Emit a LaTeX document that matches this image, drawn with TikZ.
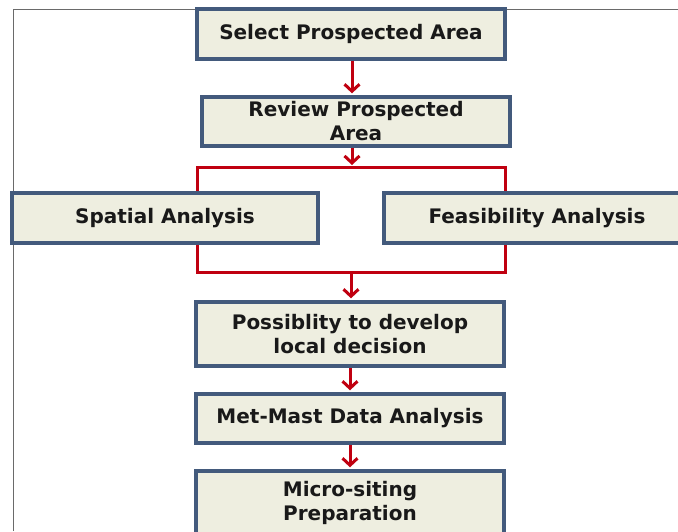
\documentclass[tikz,border=0pt]{standalone}
\usepackage{fontspec}
\setmainfont{DejaVu Sans}
\usetikzlibrary{arrows.meta,calc}

\definecolor{boxfill}{HTML}{EEEEE0}
\definecolor{boxline}{HTML}{435A7C}
\definecolor{flowred}{HTML}{C00010}
\definecolor{framegray}{HTML}{6A6A6A}

\tikzset{
  stepbox/.style={draw=boxline, line width=3.4pt, fill=boxfill,
    text=black!90, font=\fontsize{20}{24}\selectfont\bfseries,
    align=center, inner sep=0pt, minimum width=308pt},
  flow/.style={draw=flowred, line width=3pt,
    -{Straight Barb[length=7pt,width=15pt,line width=3pt]}, shorten >=2pt},
  bracket/.style={draw=flowred, line width=3pt},
}

\begin{document}
\begin{tikzpicture}[x=1pt,y=-1pt]
  \clip (0,0) rectangle (678,531);
  \fill[white] (0,0) rectangle (678,531);

  % outer frame, top and left sides
  \draw[framegray, line width=1pt] (13,531) -- (13,9) -- (678,9);

  % steps
  \node[stepbox, minimum height=50pt] (select) at (351,34) {Select Prospected Area};
  \node[stepbox, minimum height=49pt] (review) at (356,121.5) {Review Prospected\\Area};
  \node[stepbox, minimum width=306pt, minimum height=50pt] (spatial) at (165,218) {Spatial Analysis};
  \node[stepbox, minimum width=306pt, minimum height=50pt] (feas) at (537,218) {Feasibility Analysis};
  \node[stepbox, minimum height=64pt] (possib) at (350,334) {Possiblity to develop\\local decision};
  \node[stepbox, minimum height=49pt] (metmast) at (350,418.5) {Met-Mast Data Analysis};
  \node[stepbox, minimum height=64pt] (micro) at (350,503) {Micro-siting\\Preparation};

  % split and join brackets
  \coordinate (tl) at (197,167);
  \coordinate (tr) at (505,167);
  \coordinate (bl) at (197,272);
  \coordinate (br) at (505,272);
  \coordinate (split) at (352,167);
  \coordinate (join) at (351,272);

  \draw[bracket] (spatial.north -| tl) -- (tl) -- (tr) -- (feas.north -| tr);
  \draw[bracket] (spatial.south -| bl) -- (bl) -- (br) -- (feas.south -| br);

  % arrows
  \draw[flow] (select.south -| split) -- (review.north -| split);
  \draw[flow] (review.south -| split) -- (split);
  \draw[flow] (join) -- (possib.north -| join);
  \draw[flow] (possib.south) -- (metmast.north);
  \draw[flow] (metmast.south) -- (micro.north);
\end{tikzpicture}
\end{document}
